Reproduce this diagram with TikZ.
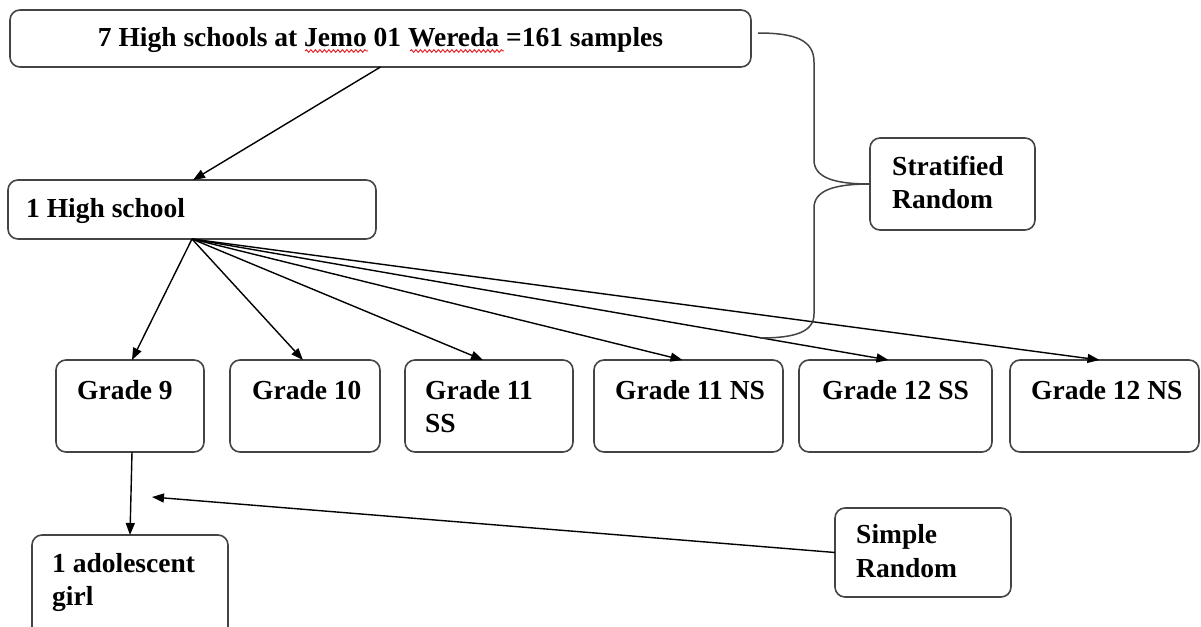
\documentclass[tikz,border=0pt]{standalone}
\usepackage{fontspec}
\setmainfont{Liberation Serif}
\usetikzlibrary{arrows.meta,decorations.pathmorphing}
\definecolor{boxgray}{HTML}{444444}
\definecolor{wavered}{HTML}{E8262B}

% rounded box given its left, top, right and bottom edges
\newcommand\mkbox[5]{%
  \node[boxline, minimum width={#4-#2}, minimum height={#5-#3}] (#1)
    at ({(#2+#4)/2},{(#3+#5)/2}) {};}

\begin{document}
\begin{tikzpicture}[x=1pt,y=-1pt,
  boxline/.style={draw=boxgray, line width=1.6pt, rounded corners=10pt,
                  inner sep=0pt, outer sep=0pt},
  lbl/.style={anchor=base west, inner sep=0pt,
              font=\fontsize{27.5}{33}\selectfont\bfseries},
  link/.style={line width=1.4pt, draw=black},
  arr/.style={link, -{Triangle[length=12pt,width=9pt]}},
  brace/.style={line width=1.5pt, draw=boxgray},
  spell/.style={draw=wavered, line width=1pt,
                decorate, decoration={snake, amplitude=1.3pt, segment length=4.5pt}},
]
\useasboundingbox (0,0) rectangle (1201,626);

% boxes
\mkbox{top}{10}{10}{751}{67}
\mkbox{hs}{8}{180}{376}{239}
\mkbox{strat}{870}{138}{1035}{230}
\mkbox{g9}{56}{360}{204}{452}
\mkbox{g10}{230}{360}{380}{452}
\mkbox{g11ss}{405}{360}{573}{452}
\mkbox{g11ns}{594}{360}{783}{452}
\mkbox{g12ss}{799}{360}{992}{452}
\mkbox{g12ns}{1010}{360}{1199}{452}
\mkbox{ado}{32}{535}{228}{660}
\mkbox{sr}{835}{508}{1011}{597}

% texts
\node[lbl, anchor=base] (toptxt) at (380.5,47) {7 High schools at Jemo 01 Wereda =161 samples};
\node[lbl] (hstxt) at (26,217) {1 High school};
\node[lbl] (st1) at (892,175) {Stratified};
\node[lbl] (st2) at (892,208) {Random};
\node[lbl] (g9t) at (77,399) {Grade 9};
\node[lbl] (g10t) at (252,399) {Grade 10};
\node[lbl] (g11a) at (425,399) {Grade 11};
\node[lbl] (g11b) at (425,432) {SS};
\node[lbl] (g11nst) at (615,399) {Grade 11 NS};
\node[lbl] (g12sst) at (822,399) {Grade 12 SS};
\node[lbl] (g12nst) at (1031,399) {Grade 12 NS};
\node[lbl] (ado1) at (52,572) {1 adolescent};
\node[lbl] (ado2) at (52,605) {girl};
\node[lbl] (sr1) at (856,543) {Simple};
\node[lbl] (sr2) at (856,577) {Random};

% spelling marks under the place names
\draw[spell] (305,51) -- (368,51);
\draw[spell] (410,51) -- (504,51);

% connectors
\coordinate (fan) at ([xshift=184pt]hs.south west);
\draw[arr] (top.south) -- ([xshift=185pt]hs.north west);
\draw[arr] (fan) -- ([xshift=2pt]g9.north);
\draw[arr] (fan) -- ([xshift=-2pt]g10.north);
\draw[arr] (fan) -- ([xshift=-6pt]g11ss.north);
\draw[arr] (fan) -- ([xshift=-6pt]g11ns.north);
\draw[arr] (fan) -- ([xshift=-7pt]g12ss.north);
\draw[arr] (fan) -- ([xshift=-5pt]g12ns.north);
\draw[arr] ([xshift=2pt]g9.south) -- (ado.north);
\coordinate (srtip) at (152,497);
\draw[arr] (sr.west) -- (srtip);

% brace joining the stratified label to the school levels
\coordinate (brtop) at (758,33);
\coordinate (brbot) at (760,338);
\draw[brace] (brtop) .. controls (795,33) and (814,40) .. (814,62)
  -- (814,160) .. controls (814,178) and (835,184) .. (strat.west);
\draw[brace] (strat.west) .. controls (835,184) and (814,190) .. (814,208)
  -- (814,314) .. controls (814,332) and (795,338) .. (brbot);
\end{tikzpicture}
\end{document}
